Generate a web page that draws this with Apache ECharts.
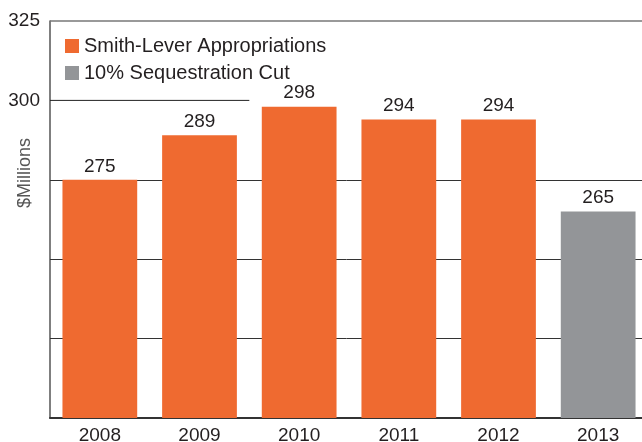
<!DOCTYPE html>
<html><head><meta charset="utf-8">
<script src="https://cdn.jsdelivr.net/npm/echarts@6/dist/echarts.min.js"></script>
<style>html,body{margin:0;padding:0;background:#fff}#c{width:642px;height:442px}</style>
</head><body><div id="c"></div>
<script>
var years = ['2008','2009','2010','2011','2012','2013'];
var appropriations = [275, 289, 298, 294, 294, null];
var sequestration = [null, null, null, null, null, 265];
var yTickLabels = [325, 300];
var fullGridValues = [225, 250, 275];
var partialLineValue = 300;
var partialLineSpan = [0, 2];

var FONT = 'Liberation Sans';
var chart = echarts.init(document.getElementById('c'));
chart.setOption({
  animation: false,
  textStyle: {fontFamily: FONT, color: '#231f20'},
  grid: {left: 50, right: -6, top: 21, bottom: 24, outerBoundsMode: 'none', containLabel: false},
  legend: {
    orient: 'vertical', left: 60, top: 31, itemWidth: 14, itemHeight: 14, itemGap: 7,
    icon: 'rect', textStyle: {fontSize: 20, fontFamily: FONT, color: '#231f20'},
    data: ['Smith-Lever Appropriations', '10% Sequestration Cut']
  },
  graphic: [{
    type: 'text', left: 16, top: 138, rotation: Math.PI / 2,
    style: {text: '$Millions', font: '18px ' + FONT, fill: '#555'}
  }],
  xAxis: [{
    type: 'category', data: years,
    axisLine: {lineStyle: {color: '#333', width: 2}},
    axisTick: {show: false},
    axisLabel: {fontSize: 19, color: '#231f20', margin: 8}
  }, {
    type: 'value', min: 0, max: years.length, show: false
  }],
  yAxis: {
    type: 'value', min: 200, max: 325, interval: 25,
    axisLine: {show: true, lineStyle: {color: '#555', width: 1.5}},
    axisTick: {show: false},
    splitLine: {show: false},
    axisLabel: {
      fontSize: 19, color: '#231f20', margin: 10,
      formatter: function (v) { return yTickLabels.indexOf(v) >= 0 ? String(v) : ''; }
    }
  },
  series: [{
    name: 'Smith-Lever Appropriations', type: 'bar', data: appropriations,
    barWidth: '75%', barGap: '-100%', z: 3,
    itemStyle: {color: '#ef6a30'},
    label: {show: true, position: 'top', fontSize: 19, color: '#231f20', distance: 4},
    markLine: {
      silent: true, symbol: 'none', label: {show: false}, z: 1,
      lineStyle: {color: '#333', width: 1, type: 'solid'},
      data: fullGridValues.map(function (v) { return {yAxis: v}; })
    }
  }, {
    name: '10% Sequestration Cut', type: 'bar', data: sequestration,
    barWidth: '75%', z: 3,
    itemStyle: {color: '#939598'},
    label: {show: true, position: 'top', fontSize: 19, color: '#231f20', distance: 4},
    markLine: {
      silent: true, symbol: 'none', label: {show: false}, z: 1,
      lineStyle: {color: '#777', width: 1.5, type: 'solid'},
      data: [{yAxis: 325}]
    }
  }, {
    type: 'line', xAxisIndex: 1, symbol: 'none', silent: true, z: 1,
    data: partialLineSpan.map(function (x) { return [x, partialLineValue]; }),
    lineStyle: {color: '#222', width: 1}
  }]
});
</script></body></html>
